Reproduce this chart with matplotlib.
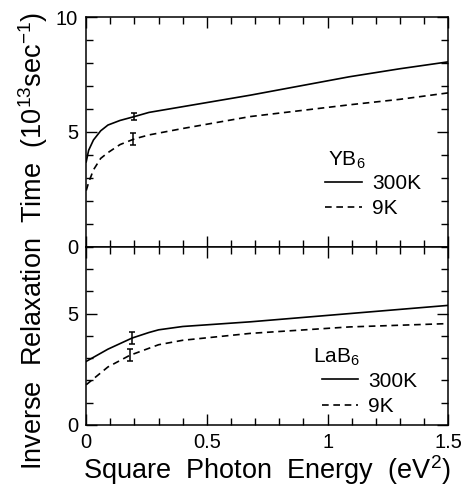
import numpy as np
import matplotlib.pyplot as plt
from matplotlib.ticker import MultipleLocator

plt.rcParams["font.family"] = ["Liberation Sans", "DejaVu Sans"]
plt.rcParams["mathtext.fontset"] = "custom"
plt.rcParams["mathtext.rm"] = "Liberation Sans"
plt.rcParams["mathtext.it"] = "Liberation Sans:italic"

# =========
#  Data
# =========

yb6_x_300 = [0, 0.01, 0.03, 0.06, 0.09, 0.14, 0.2, 0.26, 0.4, 0.68, 1.09, 1.3, 1.5]
yb6_y_300 = [3.7, 4.2, 4.65, 5.05, 5.3, 5.5, 5.67, 5.85, 6.1, 6.6, 7.4, 7.75, 8.05]
yb6_x_9 = [0, 0.01, 0.03, 0.06, 0.09, 0.14, 0.2, 0.26, 0.4, 0.68, 1.09, 1.3, 1.5]
yb6_y_9 = [2.45, 2.8, 3.35, 3.85, 4.1, 4.45, 4.7, 4.87, 5.15, 5.67, 6.18, 6.42, 6.7]

lab6_x_300 = [0, 0.09, 0.19, 0.26, 0.3, 0.4, 0.68, 1.09, 1.5]
lab6_y_300 = [2.85, 3.4, 3.9, 4.15, 4.27, 4.42, 4.63, 5.0, 5.37]
lab6_x_9 = [0, 0.09, 0.18, 0.3, 0.4, 0.68, 1.09, 1.5]
lab6_y_9 = [1.8, 2.6, 3.12, 3.6, 3.8, 4.11, 4.4, 4.55]

# error bars: x, y, half-height
yb6_err_300 = (0.2, 5.67, 0.17)
yb6_err_9 = (0.195, 4.7, 0.25)
lab6_err_300 = (0.188, 3.9, 0.27)
lab6_err_9 = (0.181, 3.12, 0.27)

x_ticks = [0, 0.5, 1, 1.5]
x_tick_labels = ["0", "0.5", "1", "1.5"]

# =========
#  Plot
# =========

fig = plt.figure(figsize=(4.66, 4.86), dpi=100)
ax_top = fig.add_axes([0.185, 0.492, 0.777, 0.473])
ax_bot = fig.add_axes([0.185, 0.126, 0.777, 0.366])

panels = [
    (ax_top, yb6_x_300, yb6_y_300, yb6_x_9, yb6_y_9, yb6_err_300, yb6_err_9, 10),
    (ax_bot, lab6_x_300, lab6_y_300, lab6_x_9, lab6_y_9, lab6_err_300, lab6_err_9, 8.0),
]

for ax, x3, y3, x9, y9, e3, e9, ymax in panels:
    ax.plot(x3, y3, color="black", lw=1.2, label="300K")
    ax.plot(x9, y9, color="black", lw=1.2, dashes=(4, 2.8), label="9K")
    for ex, ey, ee in (e3, e9):
        ax.errorbar([ex], [ey], yerr=[ee], fmt="none", ecolor="black",
                    elinewidth=1.1, capsize=2.5, capthick=1.1)

    ax.set_xlim(0, 1.5)
    ax.set_ylim(0, ymax)
    ax.xaxis.set_major_locator(MultipleLocator(0.5))
    ax.xaxis.set_minor_locator(MultipleLocator(0.1))
    ax.yaxis.set_major_locator(MultipleLocator(5))
    ax.yaxis.set_minor_locator(MultipleLocator(1))
    ax.tick_params(which="both", direction="in", top=True, right=True,
                   width=1.0, labelsize=14.5, pad=6)
    ax.tick_params(which="major", length=8)
    ax.tick_params(which="minor", length=5)
    for s in ax.spines.values():
        s.set_linewidth(1.1)

ax_top.set_xticks(x_ticks)
ax_top.tick_params(labelbottom=False)
ax_bot.set_xticks(x_ticks)
ax_bot.set_xticklabels(x_tick_labels)
ax_bot.set_yticks([0, 5])

# legends
ax_top.text(0.667, 0.376, "YB$_6$", transform=ax_top.transAxes, fontsize=15,
            ha="left", va="center")
ax_top.legend(loc="lower left", bbox_to_anchor=(0.66, 0.124), frameon=False,
              fontsize=15, handlelength=1.75, handletextpad=0.5,
              labelspacing=0.3, borderpad=0, borderaxespad=0)

ax_bot.text(0.627, 0.38, "LaB$_6$", transform=ax_bot.transAxes, fontsize=15,
            ha="left", va="center")
ax_bot.legend(loc="lower left", bbox_to_anchor=(0.65, 0.05), frameon=False,
              fontsize=15, handlelength=1.75, handletextpad=0.5,
              labelspacing=0.3, borderpad=0, borderaxespad=0)

ax_bot.set_xlabel("Square  Photon  Energy  (eV$^2$)", fontsize=19.5, labelpad=1)
fig.text(0.07, 0.505, "Inverse  Relaxation  Time  (10$^{13}$sec$^{-1}$)",
         rotation=90, fontsize=19.5, ha="center", va="center")

plt.savefig("out.png", dpi=100)
